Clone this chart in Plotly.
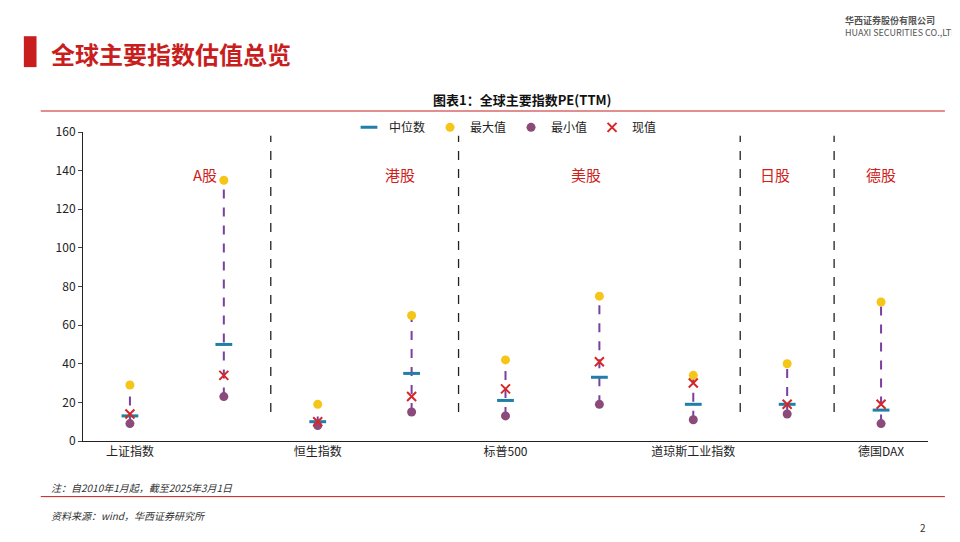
import plotly.graph_objects as go

categories = ["上证指数", "创业板指", "恒生指数", "恒生科技", "标普500", "纳斯达克", "道琼斯工业指数", "日经225", "德国DAX"]
tick_labels = ["上证指数", "", "恒生指数", "", "标普500", "", "道琼斯工业指数", "", "德国DAX"]
median_vals = [13, 50, 10, 35, 21, 33, 19, 19, 16]
max_vals = [29, 135, 19, 65, 42, 75, 34, 40, 72]
min_vals = [9, 23, 8, 15, 13, 19, 11, 14, 9]
current_vals = [14, 34, 10, 23, 27, 41, 30, 19, 19]
group_names = ["A股", "港股", "美股", "日股", "德股"]
group_pos = [0.8, 2.88, 4.86, 6.87, 8.0]
separators = [1.5, 3.5, 6.5, 7.5]

fig = go.Figure()
for i, c in enumerate(categories):
    fig.add_trace(go.Scatter(x=[i, i], y=[min_vals[i], max_vals[i]], mode="lines",
                             line=dict(color="#7b3fa0", width=2, dash="dash"), showlegend=False, hoverinfo="skip"))
fig.add_trace(go.Scatter(x=list(range(9)), y=median_vals, mode="markers", name="中位数",
                         marker=dict(symbol="line-ew", size=12, line=dict(color="#1f7fa8", width=3))))
fig.add_trace(go.Scatter(x=list(range(9)), y=max_vals, mode="markers", name="最大值",
                         marker=dict(symbol="circle", size=9, color="#f5c518")))
fig.add_trace(go.Scatter(x=list(range(9)), y=min_vals, mode="markers", name="最小值",
                         marker=dict(symbol="circle", size=9, color="#8b4a7a")))
fig.add_trace(go.Scatter(x=list(range(9)), y=current_vals, mode="markers", name="现值",
                         marker=dict(symbol="x-thin", size=9, line=dict(color="#d62728", width=2))))

for s in separators:
    fig.add_shape(type="line", x0=s, x1=s, y0=15, y1=158, line=dict(color="#222", width=1.3, dash="dash"))
for g, p in zip(group_names, group_pos):
    fig.add_annotation(x=p, y=138, text=g, showarrow=False, font=dict(color="#d0201a", size=15))

F = "Noto Sans CJK SC"
fig.add_shape(type="rect", xref="paper", yref="paper", x0=-0.07, x1=-0.055, y0=1.21, y1=1.31,
              fillcolor="#c81e1e", line=dict(width=0))
fig.add_annotation(xref="paper", yref="paper", x=-0.04, y=1.255, yanchor="middle", text="<b>全球主要指数估值总览</b>",
                   showarrow=False, xanchor="left", font=dict(family=F, size=24, color="#c81e1e"))
fig.add_annotation(xref="paper", yref="paper", x=1.04, y=1.34, yanchor="middle", text="<b>华西证券股份有限公司</b><br>HUAXI SECURITIES CO.,LTD.",
                   showarrow=False, xanchor="right", align="left", font=dict(family=F, size=9, color="#555"))
fig.add_annotation(xref="paper", yref="paper", x=0.52, y=1.104, yanchor="middle", text="<b>图表1：全球主要指数PE(TTM)</b>",
                   showarrow=False, font=dict(family=F, size=13, color="#111"))
fig.add_shape(type="line", xref="paper", yref="paper", x0=-0.05, x1=1.02, y0=1.068, y1=1.068,
              line=dict(color="#c81e1e", width=1.2))
fig.add_shape(type="line", xref="paper", yref="paper", x0=-0.05, x1=1.02, y0=-0.18, y1=-0.18,
              line=dict(color="#c81e1e", width=1))
fig.add_annotation(xref="paper", yref="paper", x=-0.04, y=-0.149, yanchor="middle", text="<i>注：自2010年1月起，截至2025年3月1日</i>",
                   showarrow=False, xanchor="left", font=dict(family=F, size=10, color="#333"))
fig.add_annotation(xref="paper", yref="paper", x=-0.04, y=-0.24, yanchor="middle", text="<i>资料来源：wind，华西证券研究所</i>",
                   showarrow=False, xanchor="left", font=dict(family=F, size=10, color="#333"))
fig.add_annotation(xref="paper", yref="paper", x=1.0, y=-0.28, yanchor="middle", text="2",
                   showarrow=False, font=dict(size=10, color="#333"))

fig.update_layout(
    width=960, height=542, margin=dict(l=75, r=40, t=124, b=109),
    plot_bgcolor="white", paper_bgcolor="white", font=dict(family=F, size=12, color="#222"),
    legend=dict(orientation="h", x=0.5, xanchor="center", y=1.015, yanchor="middle", font=dict(size=12),
                bgcolor="rgba(0,0,0,0)"),
    xaxis=dict(range=[-0.5, 8.5], tickvals=list(range(9)), ticktext=tick_labels, showline=True,
               linecolor="#222", ticks="", showgrid=False, zeroline=False),
    yaxis=dict(range=[0, 160], dtick=20, showline=True, linecolor="#222", ticks="outside",
               ticklen=4, showgrid=False, zeroline=False),
)
fig.write_html("out.html")
